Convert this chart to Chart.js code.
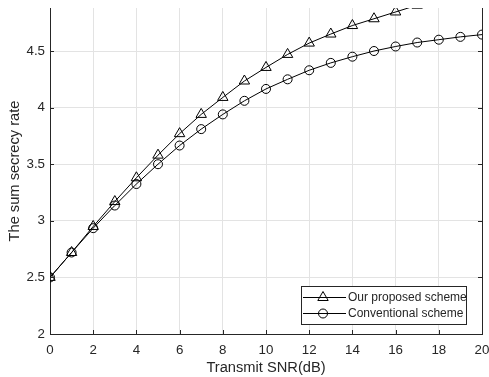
<!DOCTYPE html>
<html>
<head>
<meta charset="utf-8">
<script src="https://cdn.jsdelivr.net/npm/chart.js@4.4.1/dist/chart.umd.min.js"></script>
<style>
  html, body { margin: 0; padding: 0; background: #fff; }
</style>
</head>
<body>
<canvas id="rate-canvas" width="489" height="377"></canvas>
<script>
// chart values
const snr = [0, 1, 2, 3, 4, 5, 6, 7, 8, 9, 10, 11, 12, 13, 14, 15, 16, 17, 18, 19, 20]
const proposed = [2.5, 2.72, 2.95, 3.17, 3.38, 3.58, 3.77, 3.94, 4.09, 4.235, 4.355, 4.47, 4.57, 4.65, 4.725, 4.785, 4.845, 4.905]
const conventional = [2.5, 2.72, 2.935, 3.135, 3.325, 3.5, 3.665, 3.81, 3.94, 4.06, 4.165, 4.25, 4.33, 4.395, 4.45, 4.5, 4.54, 4.575, 4.6, 4.625, 4.645]
const xTicks = [0, 2, 4, 6, 8, 10, 12, 14, 16, 18, 20]
const yTicks = [2, 2.5, 3, 3.5, 4, 4.5]
const labels = ['Our proposed scheme', 'Conventional scheme']

const axisColor = '#262626'
const gridColor = '#e3e3e3'
const fontFamily = '"Liberation Sans", Arial, Helvetica, sans-serif'

function toPoints(ys) {
  return ys.map((y, i) => ({ x: snr[i], y: y }))
}

// inward ticks, right axis line and the boxed legend (matlab look)
const axesDecor = {
  id: 'axesDecor',
  afterDraw(chart) {
    const ctx = chart.ctx
    const area = chart.chartArea
    const xs = chart.scales.x
    const ys = chart.scales.y
    const len = 4
    ctx.save()
    ctx.strokeStyle = axisColor
    ctx.lineWidth = 1
    ctx.beginPath()
    ctx.moveTo(area.right + 0.5, area.top)
    ctx.lineTo(area.right + 0.5, area.bottom)
    xs.ticks.forEach((t) => {
      const px = Math.round(xs.getPixelForValue(t.value)) + 0.5
      ctx.moveTo(px, area.bottom)
      ctx.lineTo(px, area.bottom - len)
    })
    ys.ticks.forEach((t) => {
      const py = Math.round(ys.getPixelForValue(t.value)) + 0.5
      ctx.moveTo(area.left, py)
      ctx.lineTo(area.left + len, py)
      ctx.moveTo(area.right, py)
      ctx.lineTo(area.right - len, py)
    })
    ctx.stroke()

    // legend
    const boxW = 165
    const boxH = 38
    const bx = Math.round(area.right - 16 - boxW)
    const by = Math.round(area.bottom - 10 - boxH)
    ctx.fillStyle = '#fff'
    ctx.fillRect(bx, by, boxW, boxH)
    ctx.strokeRect(bx + 0.5, by + 0.5, boxW, boxH)
    ctx.font = '12px ' + fontFamily
    ctx.textBaseline = 'middle'
    chart.data.datasets.forEach((ds, i) => {
      const cy = by + 11.5 + i * 16
      ctx.strokeStyle = '#000'
      ctx.fillStyle = 'rgba(0,0,0,0)'
      ctx.beginPath()
      ctx.moveTo(bx + 2, cy)
      ctx.lineTo(bx + 45, cy)
      ctx.stroke()
      Chart.helpers.drawPoint(ctx, {
        pointStyle: ds.pointStyle,
        radius: ds.pointRadius,
        rotation: 0,
        borderWidth: 1,
      }, bx + 22, cy)
      ctx.fillStyle = axisColor
      ctx.fillText(ds.label, bx + 47, cy + 0.5)
    })
    ctx.restore()
  },
}

const rateChart = new Chart(document.getElementById('rate-canvas'), {
  type: 'line',
  data: {
    datasets: [
      {
        label: labels[0],
        data: toPoints(proposed),
        borderColor: '#000',
        borderWidth: 1,
        pointStyle: 'triangle',
        pointRadius: 6,
        pointBorderColor: '#000',
        pointBackgroundColor: 'rgba(0,0,0,0)',
        pointBorderWidth: 1,
        tension: 0,
      },
      {
        label: labels[1],
        data: toPoints(conventional),
        borderColor: '#000',
        borderWidth: 1,
        pointStyle: 'circle',
        pointRadius: 4.5,
        pointBorderColor: '#000',
        pointBackgroundColor: 'rgba(0,0,0,0)',
        pointBorderWidth: 1,
        tension: 0,
      },
    ],
  },
  options: {
    responsive: false,
    animation: false,
    devicePixelRatio: 1,
    layout: {
      padding: { top: 8, right: 6, left: 0, bottom: 0 },
    },
    plugins: {
      legend: { display: false },
      tooltip: { enabled: false },
      title: { display: false },
    },
    scales: {
      x: {
        type: 'linear',
        min: 0,
        max: 20,
        afterBuildTicks: (scale) => {
          scale.ticks = xTicks.map((v) => ({ value: v }))
        },
        afterFit: (scale) => {
          scale.height = 43
          scale.paddingLeft = 0
          scale.paddingRight = 0
        },
        grid: { color: gridColor, drawTicks: false },
        border: { color: axisColor, width: 1 },
        ticks: {
          color: axisColor,
          padding: 8,
          maxRotation: 0,
          font: { family: fontFamily, size: 13.33 },
          callback: (v) => String(v),
        },
        title: {
          display: true,
          text: 'Transmit SNR(dB)',
          color: axisColor,
          padding: 0,
          font: { family: fontFamily, size: 14.67 },
        },
      },
      y: {
        min: 2,
        max: 4.88,
        afterBuildTicks: (scale) => {
          scale.ticks = yTicks.map((v) => ({ value: v }))
        },
        afterFit: (scale) => {
          scale.width = 50
          scale.paddingTop = 0
          scale.paddingBottom = 0
        },
        grid: { color: gridColor, drawTicks: false },
        border: { color: axisColor, width: 1 },
        ticks: {
          color: axisColor,
          padding: 5,
          font: { family: fontFamily, size: 13.33 },
          callback: (v) => String(v),
        },
        title: {
          display: true,
          text: 'The sum secrecy rate',
          color: axisColor,
          padding: { top: 6, bottom: 0 },
          font: { family: fontFamily, size: 14.67 },
        },
      },
    },
  },
  plugins: [axesDecor],
})
</script>
</body>
</html>
